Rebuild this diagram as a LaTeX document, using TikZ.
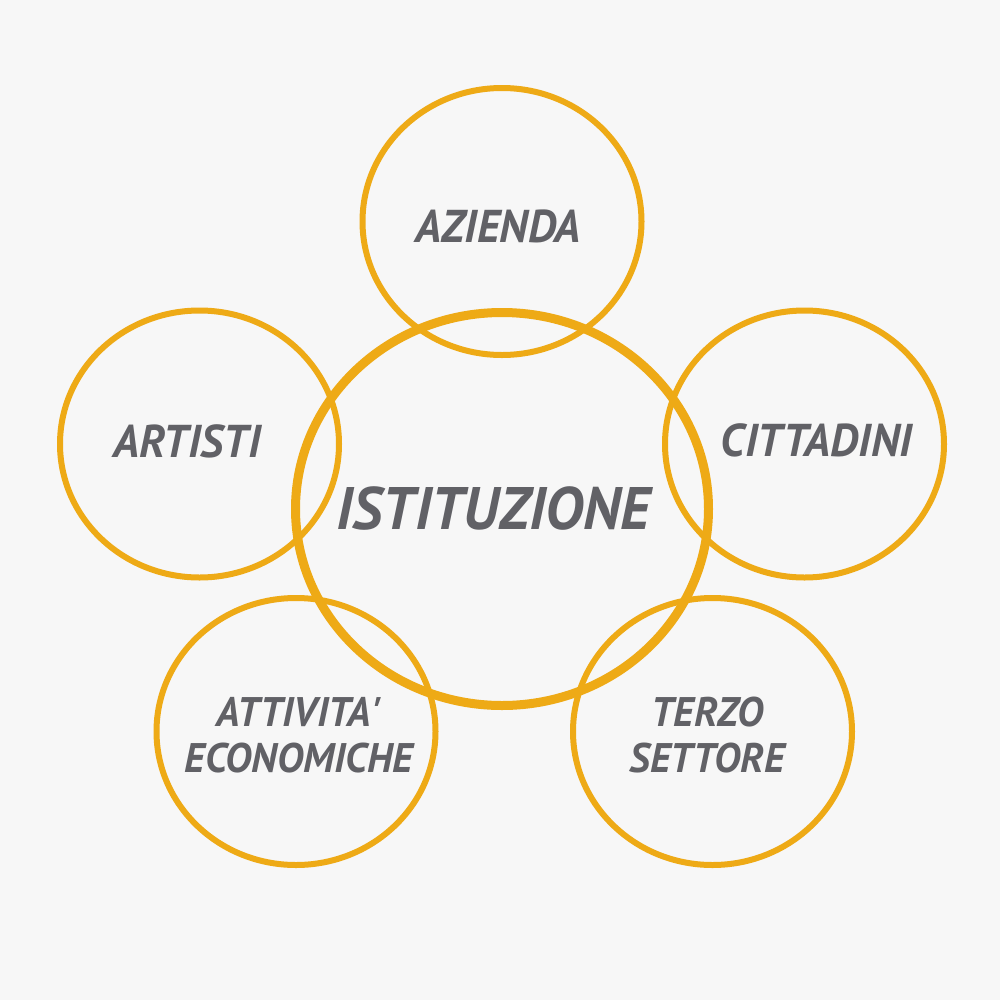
\documentclass[tikz,border=0pt]{standalone}
\usepackage{fontspec}
\setmainfont{PT Sans}[FakeStretch=0.98]
\usetikzlibrary{shapes.geometric}
\definecolor{bgcol}{HTML}{F7F7F7}
\definecolor{ring}{HTML}{EEAA16}
\definecolor{txt}{HTML}{616166}
\tikzset{
  ringsmall/.style={ellipse, draw=ring, line width=4.5pt, minimum width=279*0.75pt, minimum height=267*0.75pt, inner sep=0pt},
  ringbig/.style={ellipse, draw=ring, line width=6.75pt, minimum width=413*0.75pt, minimum height=393*0.75pt, inner sep=0pt},
  lbl/.style={text=txt, font=\fontsize{34.5pt}{34.5pt}\selectfont\bfseries\itshape, anchor=base, inner sep=0pt},
  lblsm/.style={text=txt, font=\fontsize{31pt}{31pt}\selectfont\bfseries\itshape, anchor=base, inner sep=0pt},
  lblbig/.style={text=txt, font=\fontsize{45pt}{45pt}\selectfont\bfseries\itshape, anchor=base, inner sep=0pt}
}
\begin{document}
\begin{tikzpicture}[x=0.75pt,y=-0.75pt]
\fill[bgcol] (0,0) rectangle (1000,1000);
\useasboundingbox (0,0) rectangle (1000,1000);
\node[ringsmall] (az) at (502,221.5) {};
\node[ringsmall] (ar) at (199.5,444) {};
\node[ringsmall] (ci) at (804.5,444) {};
\node[ringsmall] (at) at (296,731.5) {};
\node[ringsmall] (te) at (712.5,731.5) {};
\node[ringbig] (is) at (502,509) {};
\node[lblbig] (tis) at (493.5,529) {ISTITUZIONE};
\node[lbl] (taz) at (498.5,242) {AZIENDA};
\node[lbl] (tar) at (187,457) {ARTISTI};
\node[lbl] (tci) at (816.5,456) {CITTADINI};
\node[lblsm] (tat1) at (298.5,726) {ATTIVITA\textquotesingle};
\node[lblsm] (tat2) at (299,772) {ECONOMICHE};
\node[lblsm] (tte1) at (707.5,726) {TERZO};
\node[lblsm] (tte2) at (707,772) {SETTORE};
\end{tikzpicture}
\end{document}
